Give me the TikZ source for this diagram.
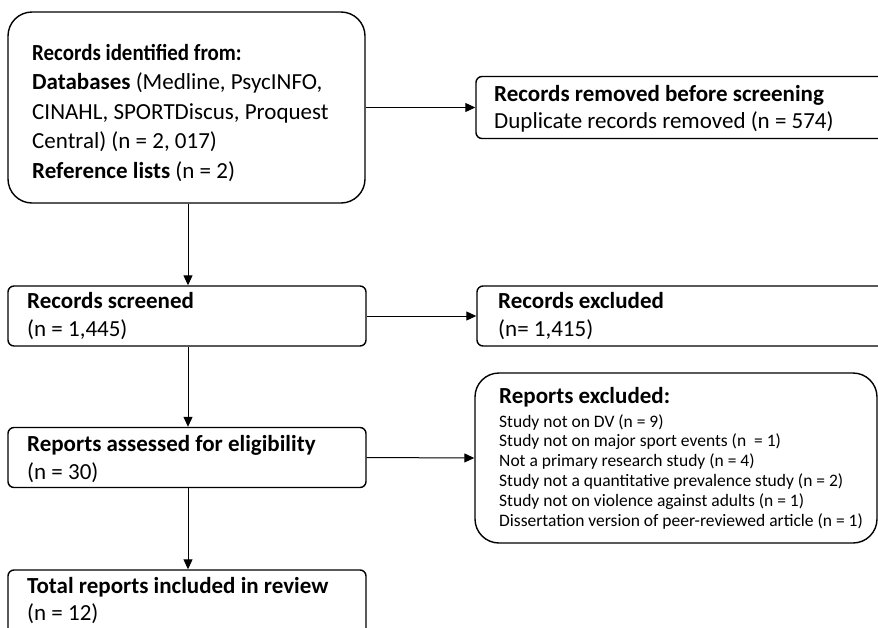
\documentclass[tikz,border=0pt]{standalone}
\usepackage{fontspec}
\usepackage{graphicx}
\setmainfont{Carlito}
\usetikzlibrary{arrows.meta}
\begin{document}
\begin{tikzpicture}[x=1pt,y=-1pt,
  boxr/.style={draw=black, line width=1.4pt, rounded corners=6pt, inner sep=0pt, minimum width=#1},
  bigbox/.style={draw=black, line width=1.4pt, rounded corners=24pt, inner sep=0pt},
  txt/.style={anchor=base west, inner sep=0pt, font=\fontsize{23}{28}\selectfont},
  small/.style={anchor=base west, inner sep=0pt, font=\fontsize{17.5}{20}\selectfont},
  conn/.style={line width=1pt, -{Triangle[length=10pt,width=9pt]}}]
\useasboundingbox (0,0) rectangle (878,627);
\clip (0,0) rectangle (878,627);
\fill[white] (0,0) rectangle (878,627);

% boxes
\node[bigbox, minimum width=357pt, minimum height=191pt] (b1) at (186.5,107.5) {};
\node[boxr=440pt, minimum height=62pt] (b2) at (696,107.5) {};
\node[boxr=358pt, minimum height=60pt] (b3) at (187,316) {};
\node[boxr=440pt, minimum height=60pt] (b4) at (697,316) {};
\node[boxr=358pt, minimum height=60pt] (b5) at (187,457.5) {};
\node[bigbox, minimum width=402pt, minimum height=170pt] (b6) at (676,458) {};
\node[boxr=358pt, minimum height=90pt] (b7) at (187,615) {};

% texts
\node[txt] (t1a) at (32,60) {\scalebox{0.91}[1]{\textbf{Records identified from:}}};
\node[txt] (t1b) at (32,89.5) {\textbf{Databases} (Medline, PsycINFO,};
\node[txt] (t1c) at (32,119) {CINAHL, SPORTDiscus, Proquest};
\node[txt] (t1d) at (32,148.5) {Central) (n = 2, 017)};
\node[txt] (t1e) at (32,178) {\textbf{Reference lists} (n = 2)};

\node[txt] (t2a) at (494,101.5) {\textbf{Records removed before screening}};
\node[txt] (t2b) at (494,128.5) {Duplicate records removed (n = 574)};

\node[txt] (t3a) at (27,308.5) {\textbf{Records screened}};
\node[txt] (t3b) at (27,336) {(n = 1,445)};

\node[txt] (t4a) at (498,308.5) {\textbf{Records excluded}};
\node[txt] (t4b) at (498,336) {(n= 1,415)};

\node[txt] (t5a) at (27,451.5) {\textbf{Reports assessed for eligibility}};
\node[txt] (t5b) at (27,479) {(n = 30)};

\node[txt] (t6a) at (499,403) {\textbf{Reports excluded:}};
\node[small] (t6b) at (499,427) {Study not on DV (n = 9)};
\node[small] (t6c) at (499,446.8) {Study not on major sport events (n \ = 1)};
\node[small] (t6d) at (499,466.6) {Not a primary research study (n = 4)};
\node[small] (t6e) at (499,486.4) {Study not a quantitative prevalence study (n = 2)};
\node[small] (t6f) at (499,506.2) {Study not on violence against adults (n = 1)};
\node[small] (t6g) at (499,526) {Dissertation version of peer-reviewed article (n = 1)};

\node[txt] (t7a) at (27,593) {\textbf{Total reports included in review}};
\node[txt] (t7b) at (27,620.5) {(n = 12)};

% connectors
\draw[conn] (b1.east) -- (b2.west);
\draw[conn] (b1.south -| 188,0) -- (b3.north -| 188,0);
\draw[conn] (b3.east) -- (b4.west);
\draw[conn] (b3.south -| 188,0) -- (b5.north -| 188,0);
\draw[conn] (b5.east) -- (b6.west);
\draw[conn] (b5.south -| 188,0) -- (b7.north -| 188,0);
\end{tikzpicture}
\end{document}
